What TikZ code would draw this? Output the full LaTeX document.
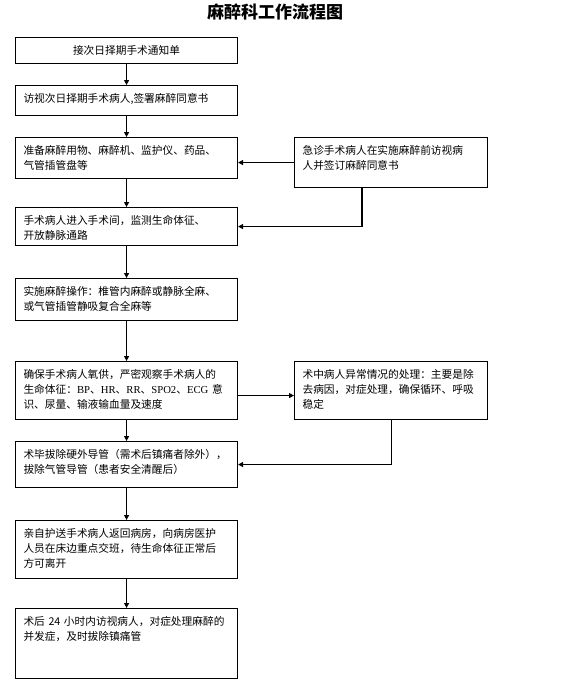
\documentclass[tikz,border=0pt]{standalone}
\usepackage{fontspec}
\setmainfont{Noto Sans CJK SC}
\newfontfamily\latinserif{Liberation Serif}
\usetikzlibrary{calc, arrows.meta, positioning}

\begin{document}
\begin{tikzpicture}[
    x=1pt, y=-1pt,
    flow box/.style={draw, line width=1.1pt, rectangle, anchor=north west, text width=206pt,
        inner xsep=8pt, inner ysep=6pt, text height=11pt, align=left,
        font=\fontsize{10.7}{15}\selectfont},
    side box/.style={flow box, text width=177pt},
    arrow/.style={-{Triangle[length=5pt, width=5pt]}, line width=1.1pt},
    title node/.style={font=\fontsize{17}{20}\selectfont\bfseries}
]
\useasboundingbox (0,0) rectangle (575,683);

% Title
\node[title node] (title) at (275,12) {麻醉科工作流程图};

% Main Nodes
\node[flow box, align=center, text depth=3pt] (notice) at (15,37) {接次日择期手术通知单};
\node[flow box, text depth=7pt] (visit) at (15,85) {访视次日择期手术病人,签署麻醉同意书};
\node[flow box, text depth=18pt] (prepare) at (15,137) {准备麻醉用物、麻醉机、监护仪、药品、\\气管插管盘等};
\node[flow box, text depth=15pt] (enter) at (15,207) {手术病人进入手术间，监测生命体征、\\开放静脉通路};
\node[flow box, text depth=19pt] (anesth) at (15,278) {实施麻醉操作：椎管内麻醉或静脉全麻、\\或气管插管静吸复合全麻等};
\node[flow box, text depth=35pt] (monitor) at (15,361) {确保手术病人氧供，严密观察手术病人的\\生命体征：{\latinserif BP}、{\latinserif HR}、{\latinserif RR}、{\latinserif SPO2}、{\latinserif ECG} 意\\识、尿量、输液输血量及速度};
\node[flow box, text depth=23pt] (extub) at (15,441) {术毕拔除硬外导管（需术后镇痛者除外），\\拔除气管导管（患者安全清醒后）};
\node[flow box, text depth=35pt] (return) at (15,520) {亲自护送手术病人返回病房，向病房医护\\人员在床边重点交班，待生命体征正常后\\方可离开};
\node[flow box, text depth=47pt] (followup) at (15,608) {术后 24 小时内访视病人，对症处理麻醉的\\并发症，及时拔除镇痛管};

% Side Nodes
\node[side box, text depth=27pt] (emerg) at (294,137) {急诊手术病人在实施麻醉前访视病\\人并签订麻醉同意书};
\node[side box, text depth=35pt] (abnormal) at (294,361) {术中病人异常情况的处理：主要是除\\去病因，对症处理，确保循环、呼吸\\稳定};

% Main flow arrows
\draw[arrow] (notice) -- (visit);
\draw[arrow] (visit) -- (prepare);
\draw[arrow] (prepare) -- (enter);
\draw[arrow] (enter) -- (anesth);
\draw[arrow] (anesth) -- (monitor);
\draw[arrow] (monitor) -- (extub);
\draw[arrow] (extub) -- (return);
\draw[arrow] (return) -- (followup);

% Side arrows
\draw[arrow] (emerg.west) -- (emerg.west -| prepare.east);
\draw[arrow] ($(emerg.south west)+(68,0)$) |- (enter.east);
\draw[arrow] ([yshift=-5pt]monitor.east) -- ([yshift=-5pt]abnormal.west);
\draw[arrow] (abnormal.south) |- (extub.east);
\end{tikzpicture}
\end{document}
